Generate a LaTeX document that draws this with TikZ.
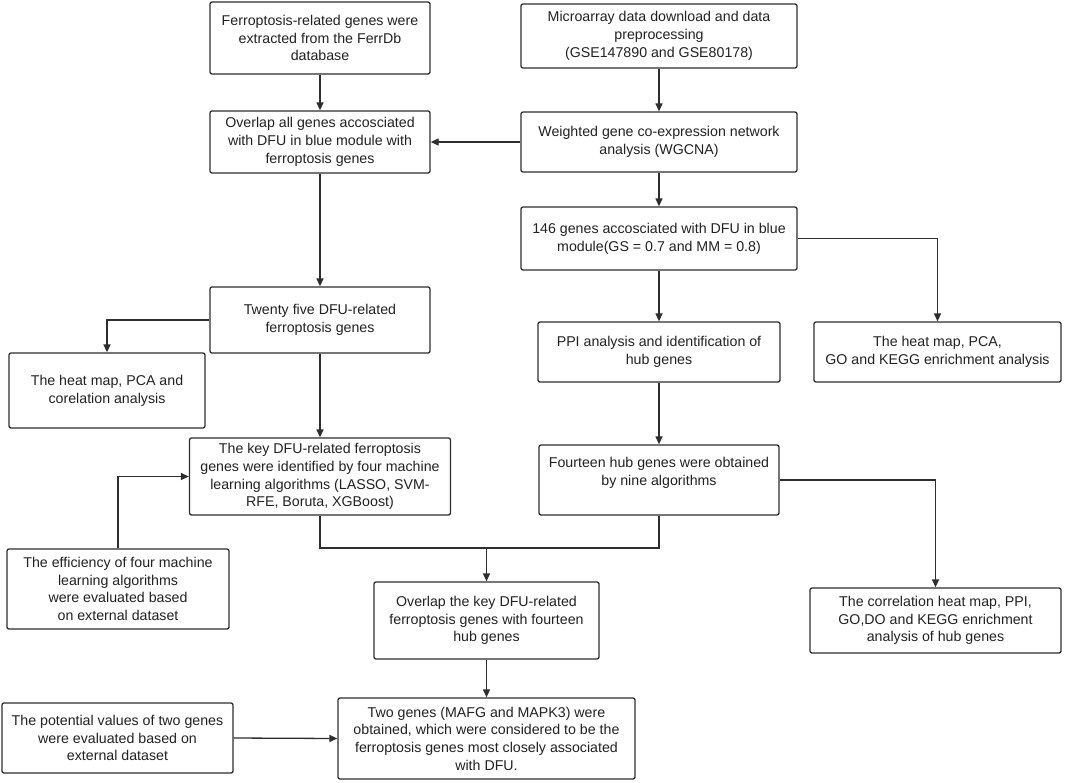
\documentclass[tikz,border=0pt]{standalone}
\usepackage{fontspec}
\setmainfont{Liberation Sans}
\usetikzlibrary{arrows.meta}
\definecolor{lncol}{HTML}{2E2E2E}
\definecolor{txcol}{HTML}{222222}
\begin{document}
\begin{tikzpicture}[x=1pt,y=-1pt,
  box/.style={draw=lncol, line width=1.3pt, rounded corners=2pt, fill=white,
    inner sep=0pt, align=center, text=txcol,
    font=\fontsize{14.2}{17.7}\selectfont},
  conn/.style={draw=lncol, line width=1.3pt},
  arr/.style={conn, -{Triangle[length=8pt,width=7pt]}}]
\useasboundingbox[fill=white] (0,0) rectangle (1065,782);

\node[box, minimum width=220pt, minimum height=72pt] (b1) at (320,38)
  {Ferroptosis-related genes were\\extracted from the FerrDb\\database};
\node[box, minimum width=276pt, minimum height=64pt] (b2) at (659,36)
  {Microarray data download and data\\preprocessing\\(GSE147890 and GSE80178)};
\node[box, minimum width=220pt, minimum height=62pt] (b3) at (320,142)
  {Overlap all genes accosciated\\with DFU in blue module with\\ferroptosis genes};
\node[box, minimum width=276pt, minimum height=60pt] (b4) at (659,142)
  {Weighted gene co-expression network\\analysis (WGCNA)};
\node[box, minimum width=276pt, minimum height=63pt] (b5) at (659,238.5)
  {146 genes accosciated with DFU in blue\\module(GS = 0.7 and MM = 0.8)};
\node[box, minimum width=220pt, minimum height=66pt] (b6) at (320,320)
  {Twenty five DFU-related\\ferroptosis genes};
\node[box, minimum width=196pt, minimum height=75pt] (b7) at (107,390.5)
  {The heat map, PCA and\\corelation analysis};
\node[box, minimum width=242pt, minimum height=60pt] (b8) at (659,352)
  {PPI analysis and identification of\\hub genes};
\node[box, minimum width=247pt, minimum height=60pt] (b9) at (937.5,352)
  {The heat map, PCA,\\GO and KEGG enrichment analysis};
\node[box, minimum width=261pt, minimum height=77pt] (b10) at (320,476.5)
  {The key DFU-related ferroptosis\\genes were identified by four machine\\learning algorithms (LASSO, SVM-\\RFE, Boruta, XGBoost)};
\node[box, minimum width=240pt, minimum height=70pt] (b11) at (659,480)
  {Fourteen hub genes were obtained\\by nine algorithms\\\mbox{}};
\node[box, minimum width=222pt, minimum height=80pt] (b12) at (118,589)
  {The efficiency of four machine\\learning algorithms\\were evaluated based\\on external dataset};
\node[box, minimum width=225pt, minimum height=77pt] (b13) at (486.5,620.5)
  {Overlap the key DFU-related\\ferroptosis genes with fourteen\\hub genes};
\node[box, minimum width=251pt, minimum height=65pt] (b14) at (935.5,620.5)
  {The correlation heat map, PPI,\\GO,DO and KEGG enrichment\\analysis of hub genes};
\node[box, minimum width=231pt, minimum height=70pt] (b15) at (117.5,738)
  {The potential values of two genes\\were evaluated based on\\external dataset};
\node[box, minimum width=297pt, minimum height=81pt] (b16) at (486.5,738.5)
  {Two genes (MAFG and MAPK3) were\\obtained, which were considered to be the\\ferroptosis genes most closely associated\\with DFU.};

\coordinate (m) at (486.5,548);

\draw[arr] (b1.south) -- (b3.north);
\draw[arr] (b2.south) -- (b4.north);
\draw[arr] (b4.west) -- (b3.east);
\draw[arr] (b4.south) -- (b5.north);
\draw[arr] (b3.south) -- (b6.north);
\draw[arr] (b5.south) -- (b8.north);
\draw[arr] (b5.east) -| (b9.north);
\draw[arr] (b6.west) -| (b7.north);
\draw[arr] (b6.south) -- (b10.north);
\draw[arr] (b8.south) -- (b11.north);
\draw[arr] (b12.north) |- (b10.west);
\draw[conn] (b10.south) |- (m);
\draw[conn] (b11.south) |- (m);
\draw[arr] (m) -- (b13.north);
\draw[arr] (b11.east) -| (b14.north);
\draw[arr] (b13.south) -- (b16.north);
\draw[arr] (b15.east) -- (b16.west);
\end{tikzpicture}
\end{document}
